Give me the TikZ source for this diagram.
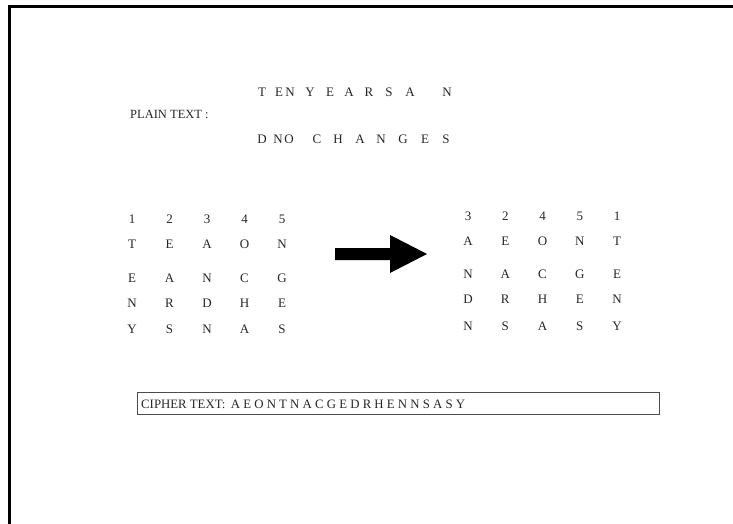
\documentclass[tikz,border=0pt]{standalone}
\usepackage{fontspec}
\setmainfont{Liberation Serif}
\begin{document}
\begin{tikzpicture}[x=1pt,y=-1pt,
  every node/.style={inner sep=0pt, text=black!85, font=\fontsize{13}{15}\selectfont},
  cell/.style={anchor=base},
  frameline/.style={line width=2.5pt, line join=miter},
  cipherbox/.style={draw=black!70, line width=1.2pt, minimum width=522pt, minimum height=22pt, anchor=north west}]
\useasboundingbox (0,0) rectangle (733,524);
% page frame
\draw[frameline] (9.5,524) -- (9.5,6.5) -- (733,6.5);
% plain text
\node[anchor=base west, font=\fontsize{12.5}{14}\selectfont] (plain) at (130,118) {PLAIN TEXT :};
\foreach \x/\l [count=\i] in {262/T,279/E,290/N,310/Y,330/E,349/A,369/R,389/S,410/A,447/N}
  \node[cell] (pa\i) at (\x,97) {\l};
\foreach \x/\l [count=\i] in {262/D,278/N,289/O,317/C,338/H,360/A,381/N,403/G,425/E,446/S}
  \node[cell] (pb\i) at (\x,143) {\l};
% left grid
\foreach \y/\row [count=\r] in {223/{1,2,3,4,5},248/{T,E,A,O,N},282/{E,A,N,C,G},307/{N,R,D,H,E},333/{Y,S,N,A,S}}{
  \foreach \l [count=\c] in \row
    \node[cell] (L\r-\c) at (132+37.5*\c-37.5,\y) {\l};
}
% right grid
\foreach \y/\row [count=\r] in {220/{3,2,4,5,1},245/{A,E,O,N,T},278/{N,A,C,G,E},303/{D,R,H,E,N},330/{N,S,A,S,Y}}{
  \foreach \l [count=\c] in \row
    \node[cell] (R\r-\c) at (468+37.25*\c-37.25,\y) {\l};
}
% big arrow
\fill[black] (335,248) -- (390,248) -- (390,235) -- (427,254) -- (390,273) -- (390,260) -- (335,260) -- cycle;
% cipher text box
\node[cipherbox] (cbox) at (137,392) {};
\node[anchor=base west, font=\fontsize{12.8}{15}\selectfont] (ctext) at (141,408) {CIPHER TEXT:\ \,A E O N T N A C G E D R H E N N S A S Y};
\end{tikzpicture}
\end{document}
